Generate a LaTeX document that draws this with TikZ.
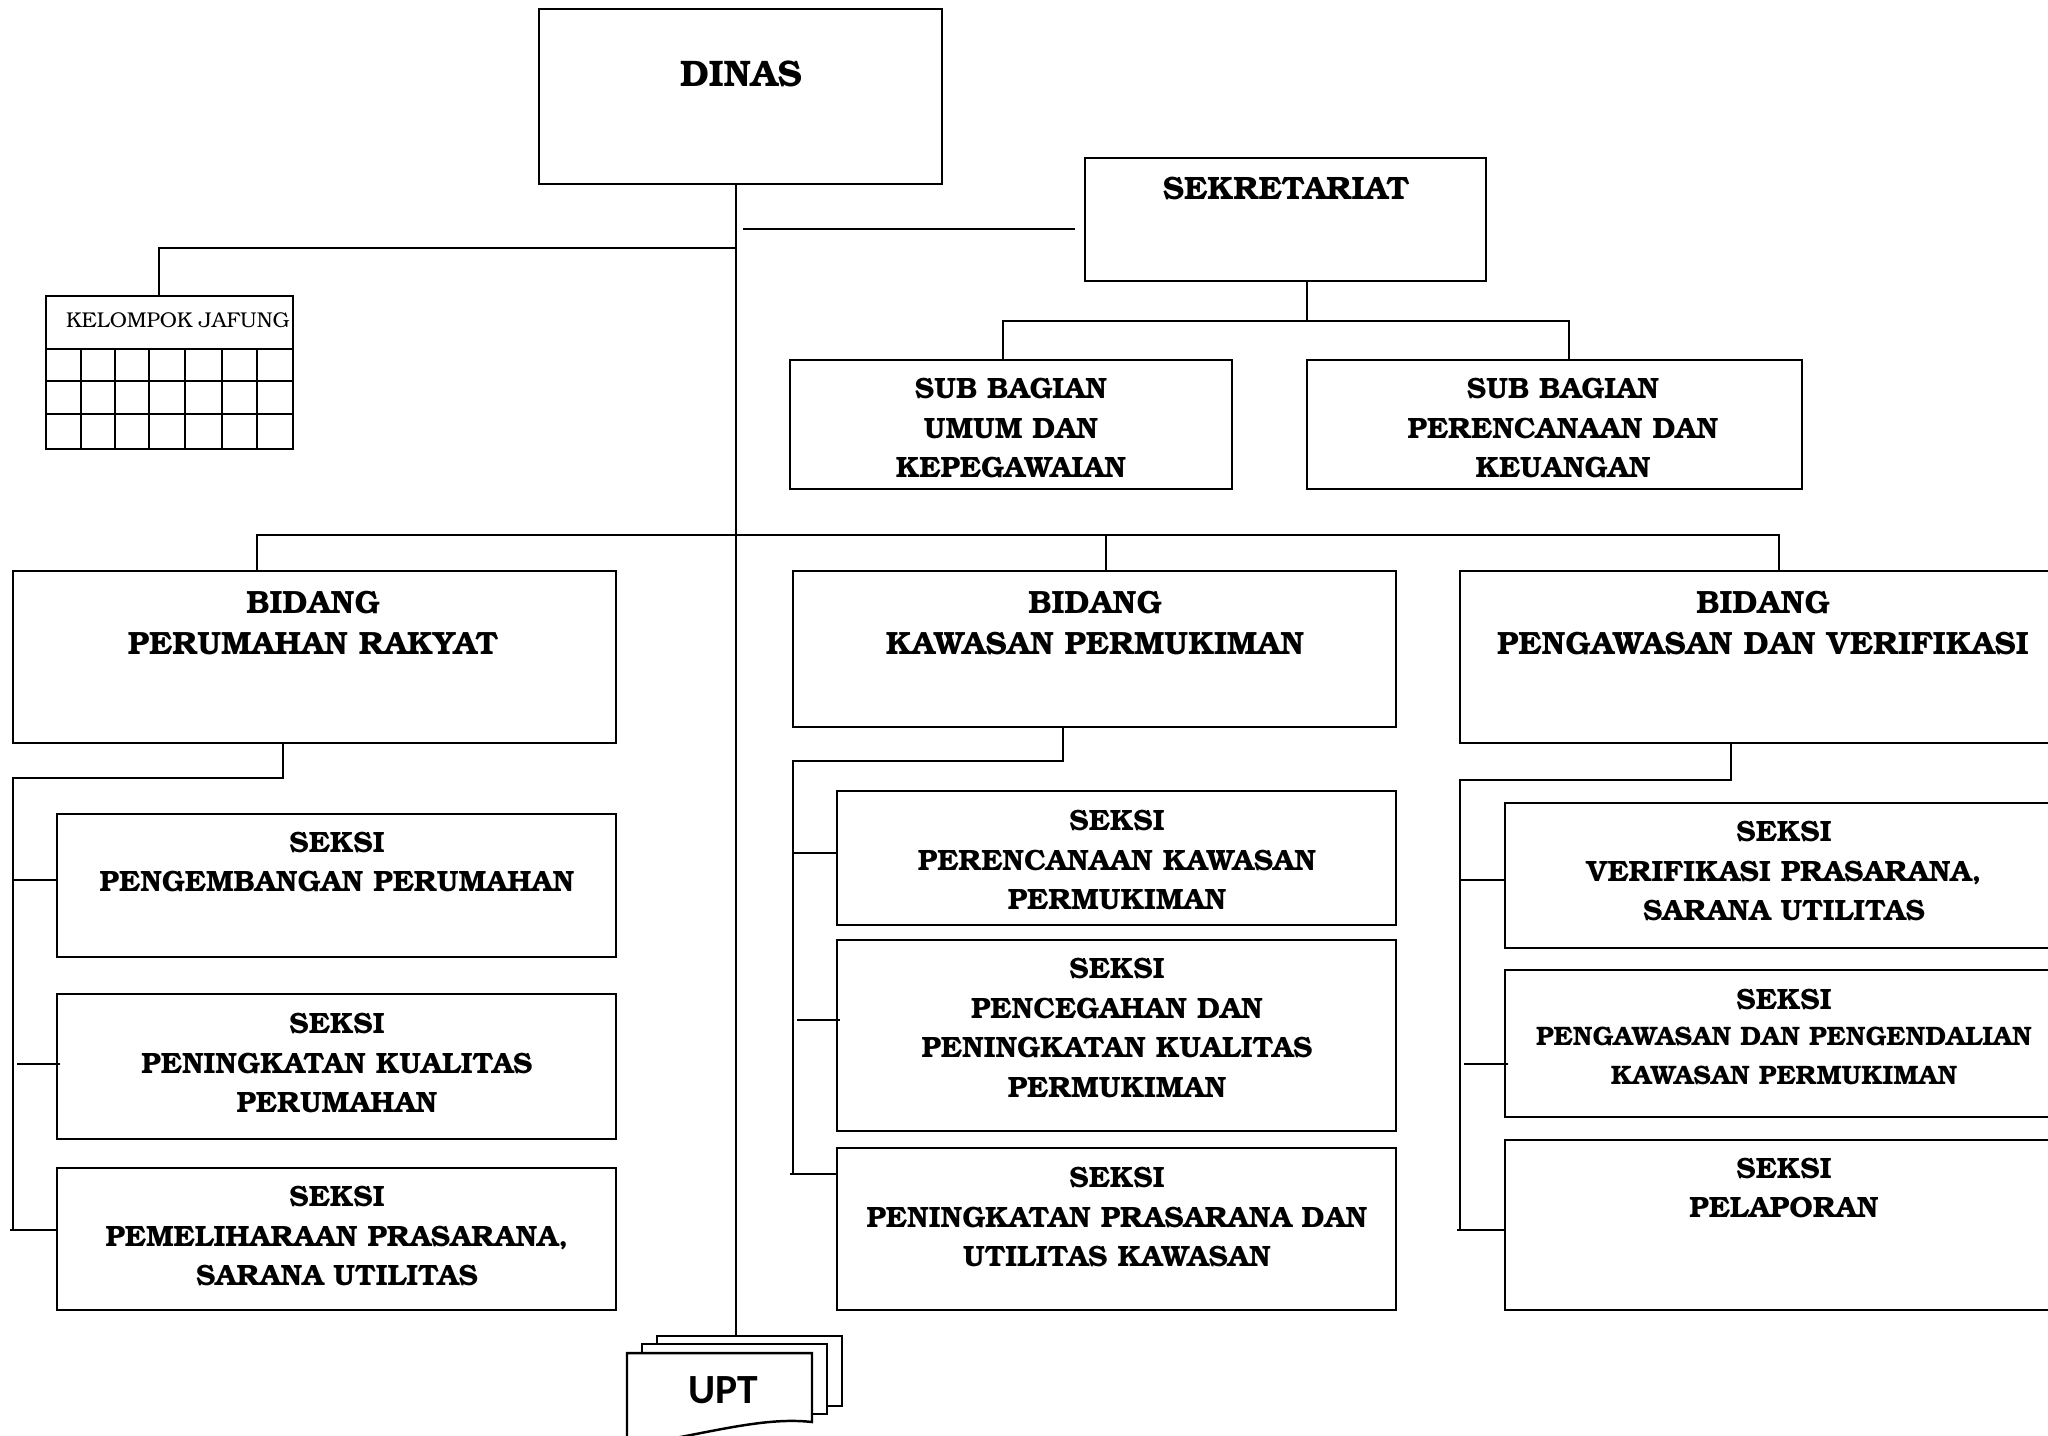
\documentclass[tikz,border=0pt]{standalone}
\usepackage[T1]{fontenc}
\usepackage{fontspec}
\newfontfamily\uptfont{Carlito}
\usetikzlibrary{fit}
\IfFileExists{t1qbk.fd}{%
  \newcommand\bk{\fontencoding{T1}\fontfamily{qbk}\fontseries{b}\fontshape{n}\selectfont}%
  \newcommand\bkr{\fontencoding{T1}\fontfamily{qbk}\fontseries{m}\fontshape{n}\selectfont}}{%
 \IfFileExists{t1pbk.fd}{%
  \newcommand\bk{\fontencoding{T1}\fontfamily{pbk}\fontseries{db}\fontshape{n}\selectfont}%
  \newcommand\bkr{\fontencoding{T1}\fontfamily{pbk}\fontseries{m}\fontshape{n}\selectfont}}{%
  \newfontfamily\bkfallback{DejaVu Serif}%
  \newcommand\bk{\bkfallback\bfseries}%
  \newcommand\bkr{\bkfallback\mdseries}}}
\tikzset{
  box/.style={draw, line width=0.7pt, inner sep=0pt, rectangle, fill=white},
  ln/.style={line width=0.6pt},
  tdinas/.style={align=center, inner sep=0pt, font={\bk\fontsize{10.5}{12}\selectfont}},
  tbid/.style={align=center, inner sep=0pt, font={\bk\fontsize{9.15}{11.9}\selectfont}},
  tsekr/.style={align=center, inner sep=0pt, font={\bk\fontsize{9.2}{11.3}\selectfont}},
  tsub/.style={align=center, inner sep=0pt, font={\bk\fontsize{8.35}{11.3}\selectfont}},
  tsek/.style={align=center, inner sep=0pt, font={\bk\fontsize{8.35}{11.3}\selectfont}},
  tjaf/.style={inner sep=0pt, font={\bkr\fontsize{6.08}{7}\selectfont}},
  tupt/.style={inner sep=0pt, font={\uptfont\bfseries\fontsize{11.8}{13}\selectfont}},
  sheet/.style={draw, line width=0.7pt, fill=white, line join=miter}
}
\begin{document}
\begin{tikzpicture}[x=0.01cm,y=-0.01cm]
\useasboundingbox (0,0) rectangle (2048,1435);
\clip (0,0) rectangle (2048,1435);
\fill[white] (0,0) rectangle (2048,1435);

% ---- top level
\node[box, fit={(539,9)(942,184)}] (dinas) {};
\node[tdinas] (dinasT) at (741,74) {DINAS};

\node[box, fit={(1085,158)(1486,281)}] (sek) {};
\node[tsekr] (sekT) at (1286,188) {SEKRETARIAT};

% ---- kelompok jafung table
\node[box, fit={(46,296)(293,449)}] (jaf) {};
\draw[ln] (46,349) -- (293,349);
\draw[ln] (46,381) -- (293,381);
\draw[ln] (46,414) -- (293,414);
\foreach \cx in {81,115,149,185,222,257} { \draw[ln] (\cx,349) -- (\cx,449); }
\node[tjaf] (jafT) at (178,320) {KELOMPOK JAFUNG};

% ---- sub bagian
\node[box, fit={(790,360)(1232,489)}] (sb1) {};
\node[tsub] (sb1T) at (1011,428) {SUB BAGIAN\\UMUM DAN\\KEPEGAWAIAN};
\node[box, fit={(1307,360)(1802,489)}] (sb2) {};
\node[tsub] (sb2T) at (1563,428) {SUB BAGIAN\\PERENCANAAN DAN\\KEUANGAN};

% ---- bidang
\node[box, fit={(13,571)(616,743)}] (bid1) {};
\node[tbid] (bid1T) at (313,623) {BIDANG\\PERUMAHAN RAKYAT};
\node[box, fit={(793,571)(1396,727)}] (bid2) {};
\node[tbid] (bid2T) at (1095,623) {BIDANG\\KAWASAN PERMUKIMAN};
\node[box, fit={(1460,571)(2065,743)}] (bid3) {};
\node[tbid] (bid3T) at (1763,623) {BIDANG\\PENGAWASAN DAN VERIFIKASI};

% ---- seksi left
\node[box, fit={(57,814)(616,957)}] (s1) {};
\node[tsek] (s1T) at (337,862) {SEKSI\\PENGEMBANGAN PERUMAHAN};
\node[box, fit={(57,994)(616,1139)}] (s2) {};
\node[tsek] (s2T) at (337,1063) {SEKSI\\PENINGKATAN KUALITAS\\PERUMAHAN};
\node[box, fit={(57,1168)(616,1310)}] (s3) {};
\node[tsek] (s3T) at (337,1236) {SEKSI\\PEMELIHARAAN PRASARANA,\\SARANA UTILITAS};

% ---- seksi middle
\node[box, fit={(837,791)(1396,925)}] (k1) {};
\node[tsek] (k1T) at (1117,860) {SEKSI\\PERENCANAAN KAWASAN\\PERMUKIMAN};
\node[box, fit={(837,940)(1396,1131)}] (k2) {};
\node[tsek] (k2T) at (1117,1028) {SEKSI\\PENCEGAHAN DAN\\PENINGKATAN KUALITAS\\PERMUKIMAN};
\node[box, fit={(837,1148)(1396,1310)}] (k3) {};
\node[tsek] (k3T) at (1117,1217) {SEKSI\\PENINGKATAN PRASARANA DAN\\UTILITAS KAWASAN};

% ---- seksi right
\node[box, fit={(1505,803)(2065,948)}] (v1) {};
\node[tsek] (v1T) at (1784,871) {SEKSI\\VERIFIKASI PRASARANA,\\SARANA UTILITAS};
\node[box, fit={(1505,970)(2065,1117)}] (v2) {};
\node[tsek] (v2T) at (1784,1037) {SEKSI\\[-1.2pt]\fontsize{7.58}{9.9}\selectfont PENGAWASAN DAN PENGENDALIAN\\\fontsize{7.58}{9.9}\selectfont KAWASAN PERMUKIMAN};
\node[box, fit={(1505,1140)(2065,1310)}] (v3) {};
\node[tsek] (v3T) at (1784,1188) {SEKSI\\PELAPORAN};

% ---- UPT (stacked documents)
\draw[sheet] (657,1406) -- (657,1336) -- (842,1336) -- (842,1406) -- cycle;
\draw[sheet] (642,1414) -- (642,1344) -- (827,1344) -- (827,1414) -- cycle;
\draw[sheet] (627,1460) -- (627,1353) -- (812,1353) -- (812,1422)
  .. controls (760,1416) and (700,1436) .. (627,1446) -- cycle;
\node[tupt] (upt) at (723,1390) {UPT};

% ---- connectors
\coordinate (trTop) at (736,184);
\coordinate (trBot) at (736,1336);
\draw[ln] (trTop) -- (trBot);

% sekretariat (line with gaps, as in the original)
\coordinate (sekA) at (743,229);
\coordinate (sekB) at (1075,229);
\draw[ln] (sekA) -- (sekB);

% kelompok jafung
\coordinate (jafA) at (736,248);
\coordinate (jafB) at (159,296);
\draw[ln] (jafA) -| (jafB);

% sub bagian
\coordinate (sbA) at (1307,281);
\draw[ln] (sbA) -- (1307,321);
\draw[ln] (1003,360) -- (1003,321) -- (1569,321) -- (1569,360);

% bidang bus
\draw[ln] (257,571) -- (257,535) -- (1779,535) -- (1779,571);
\draw[ln] (1106,535) -- (1106,571);

% bidang 1 children
\draw[ln] (283,743) -- (283,778) -- (13,778) -- (13,1230);
\draw[ln] (13,880) -- (57,880);
\draw[ln] (17,1064) -- (60,1064);
\draw[ln] (10,1230) -- (57,1230);

% bidang 2 children
\draw[ln] (1063,727) -- (1063,761) -- (793,761) -- (793,1174);
\draw[ln] (793,853) -- (837,853);
\draw[ln] (797,1020) -- (840,1020);
\draw[ln] (790,1174) -- (837,1174);

% bidang 3 children
\draw[ln] (1731,743) -- (1731,780) -- (1460,780) -- (1460,1230);
\draw[ln] (1460,880) -- (1505,880);
\draw[ln] (1464,1064) -- (1508,1064);
\draw[ln] (1457,1230) -- (1505,1230);
\end{tikzpicture}
\end{document}
